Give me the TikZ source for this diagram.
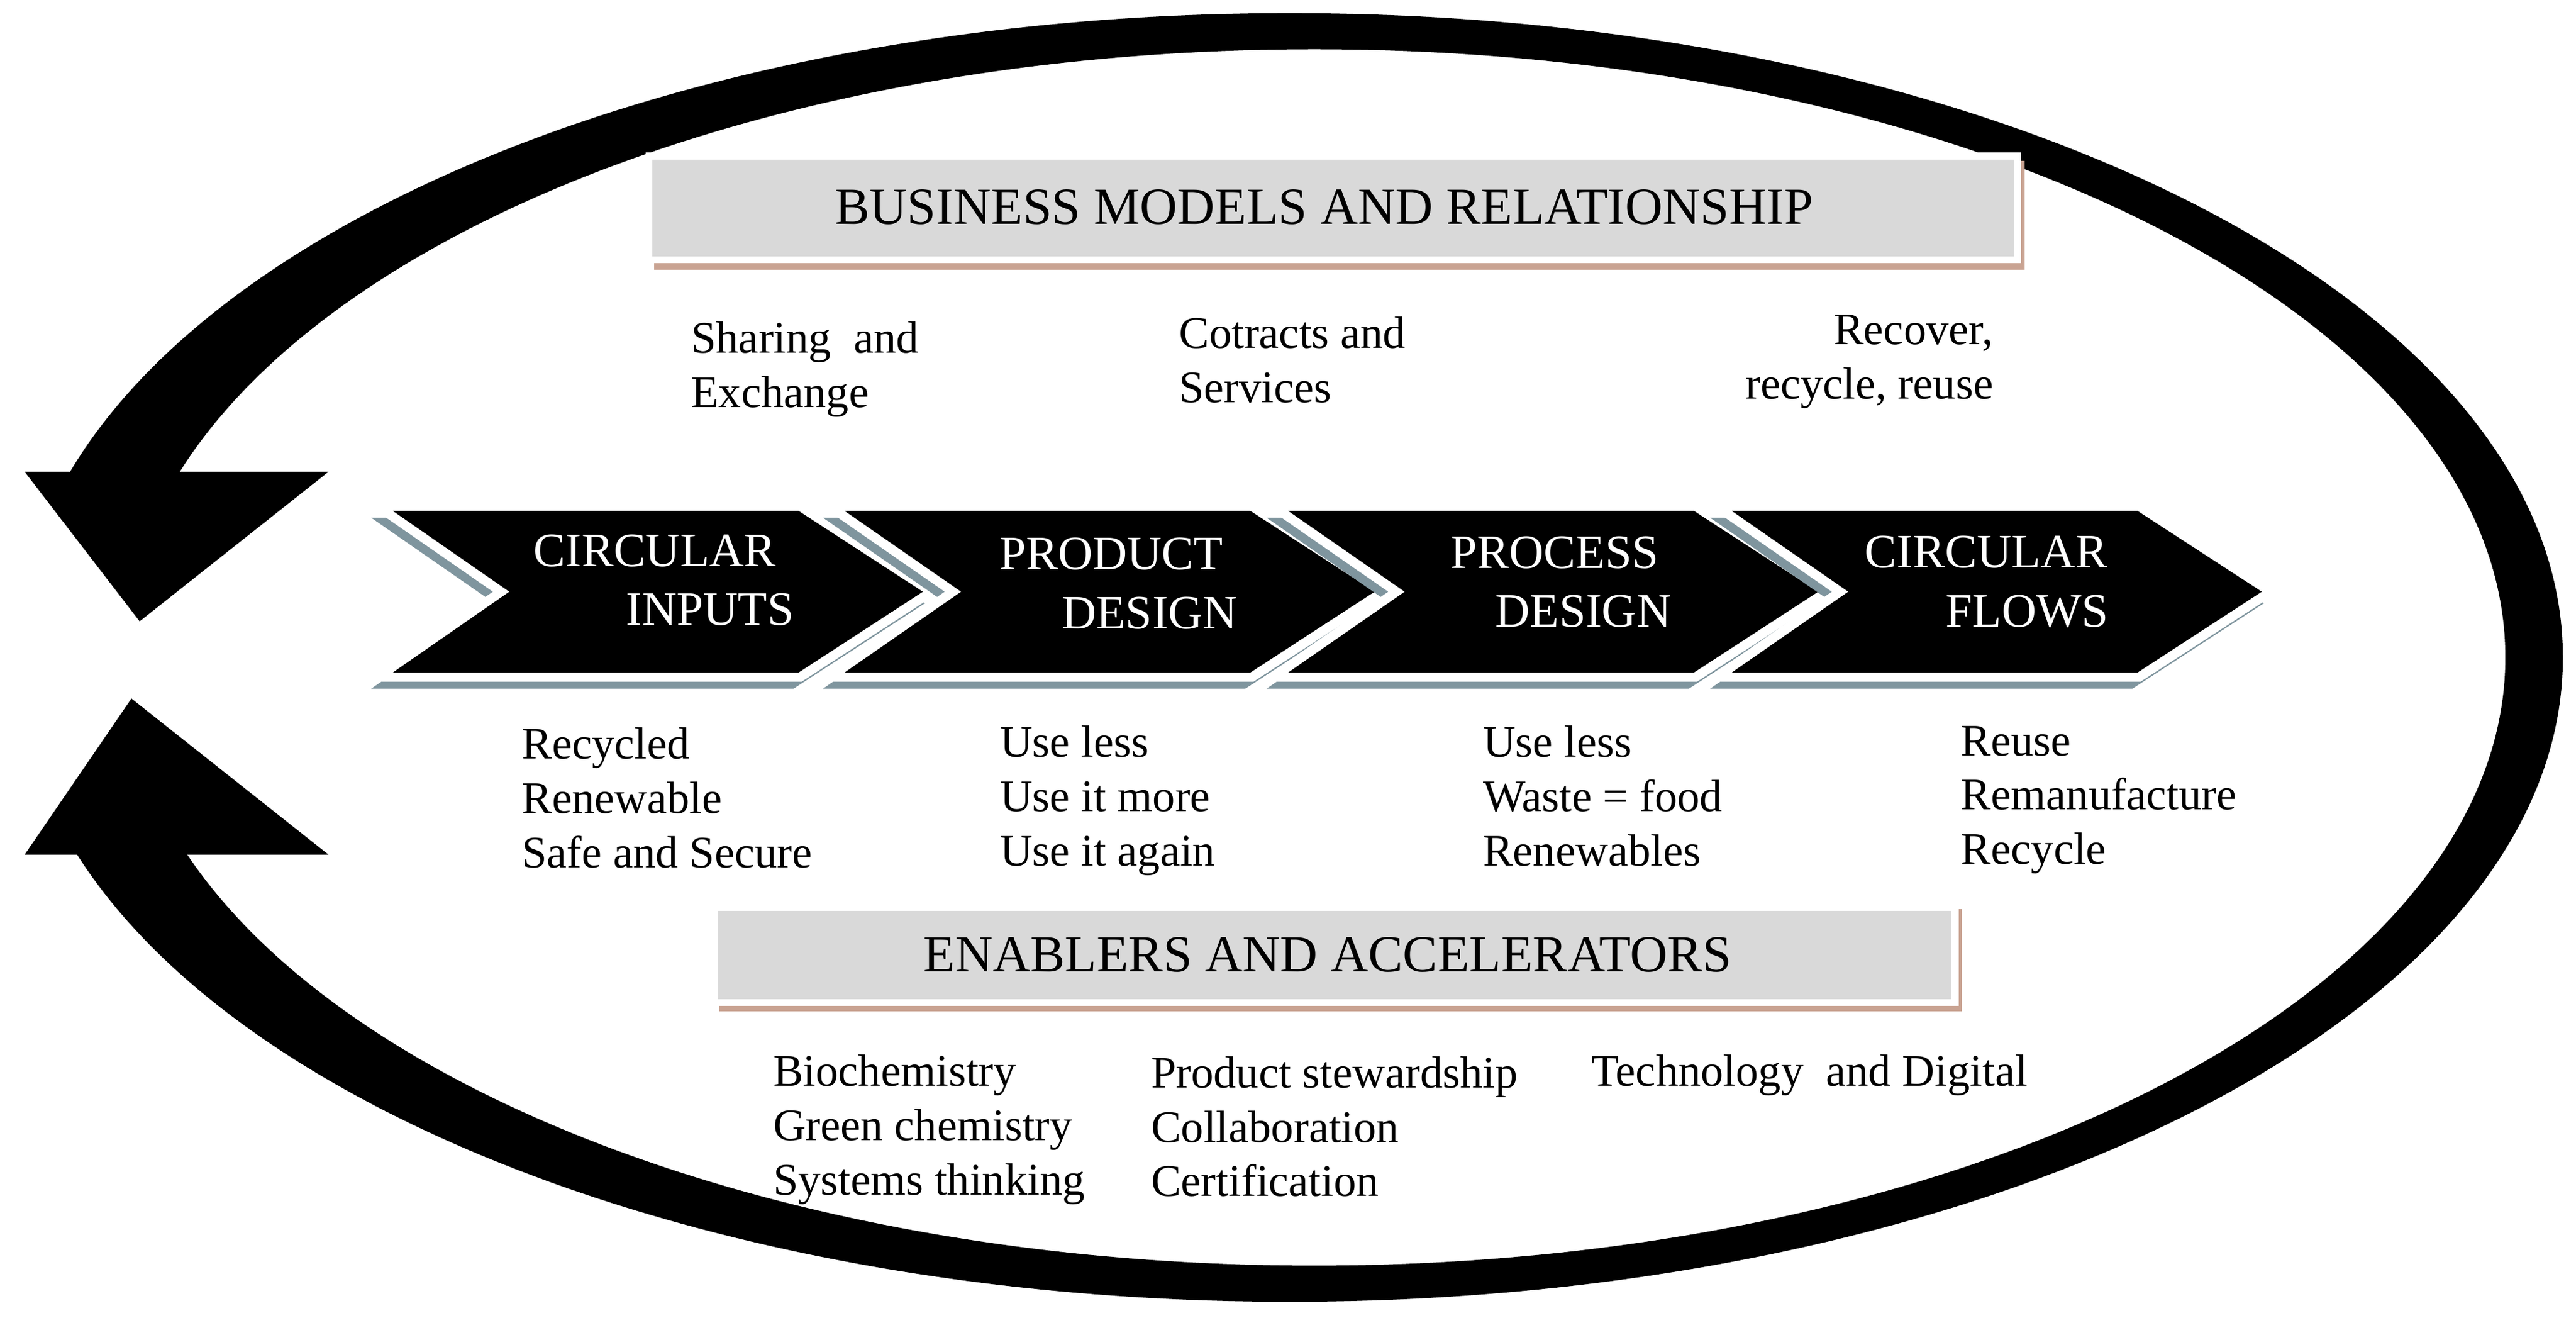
\documentclass[tikz,border=0pt]{standalone}
\usepackage{fontspec}
\setmainfont{Liberation Serif}
\begin{document}
\begin{tikzpicture}[x=0.01cm,y=-0.01cm,
  body/.style={font=\fontsize{7.8}{9.4}\selectfont,align=left,inner sep=0pt,anchor=north west},
  captxt/.style={font=\fontsize{9}{10}\selectfont,inner sep=0pt},
  chev/.style={font=\fontsize{8.3}{10.2}\selectfont,text=white,align=center,inner sep=0pt},
  gbox/.style={fill=boxgray,draw=white,line width=1.2pt},
  shadowline/.style={draw=boxbrown,line width=1.3pt}]
\definecolor{boxgray}{HTML}{D9D9D9}
\definecolor{boxbrown}{HTML}{C9A392}
\definecolor{chevshadow}{HTML}{7F959E}
\useasboundingbox (0,0) rectangle (1568,801.6);
% loop arrows
\begin{scope}
  \clip (-10,-10) rectangle (1600,287) (-10,520) rectangle (1600,820) (250,286) rectangle (1600,521);
  \fill[even odd rule] (785,400) ellipse [x radius=775,y radius=392] (800,400) ellipse [x radius=725,y radius=370];
\end{scope}
\fill (15,287) -- (200,287) -- (85,378) -- cycle;
\fill (80,425) -- (200,520) -- (15,520) -- cycle;
% top box
\draw[shadowline] (398,162) -- (1230,162) -- (1230,98);
\draw[gbox] (395,95) rectangle (1228,158);
\node[captxt] (bmt) at (806,126) {BUSINESS MODELS AND RELATIONSHIP};
% bottom box
\draw[shadowline] (438,613) -- (1192,613) -- (1192,553);
\draw[gbox] (435,552) rectangle (1190,610);
\node[captxt] (eat) at (808,581) {ENABLERS AND ACCELERATORS};
% chevrons
\foreach \L/\n in {230/c1,505/c2,775/c3,1045/c4}{
  \fill[chevshadow] (\L-4,315) -- (\L+253,315) -- (\L+333,367) -- (\L+253,419) -- (\L-4,419) -- (\L+71,367) -- cycle;
  \filldraw[fill=black,draw=white,line width=1.6pt] (\L,308) -- (\L+257,308) -- (\L+337,360) -- (\L+257,412) -- (\L,412) -- (\L+75,360) -- cycle;
}
\node[chev,anchor=east] (t1) at (484,353) {CIRCULAR\\\hspace*{2.3em}INPUTS};
\node[chev,anchor=east] (t2) at (754,355) {PRODUCT\\\hspace*{1.6em}DESIGN};
\node[chev,anchor=east] (t3) at (1018,354) {PROCESS\\\hspace*{1.2em}DESIGN};
\node[chev,anchor=east] (t4) at (1284,354) {CIRCULAR\\\hspace*{1.7em}FLOWS};
% texts above
\node[body] (s1) at (420,195) {Sharing\ \ and\\Exchange};
\node[body] (s2) at (717,192) {Cotracts and\\Services};
\node[body,align=right,anchor=north east] (s3) at (1214,191) {Recover,\\recycle, reuse};
% texts below
\node[body] (b1) at (317,442) {Recycled\\Renewable\\Safe and Secure};
\node[body] (b2) at (608,441) {Use less\\Use it more\\Use it again};
\node[body] (b3) at (902,441) {Use less\\Waste = food\\Renewables};
\node[body] (b4) at (1193,441) {Reuse\\Remanufacture\\Recycle};
% enablers
\node[body] (e1) at (470,641) {Biochemistry\\Green chemistry\\Systems thinking};
\node[body] (e2) at (700,642) {Product stewardship\\Collaboration\\Certification};
\node[body] (e3) at (968,641) {Technology\ \ and Digital};
\end{tikzpicture}
\end{document}
